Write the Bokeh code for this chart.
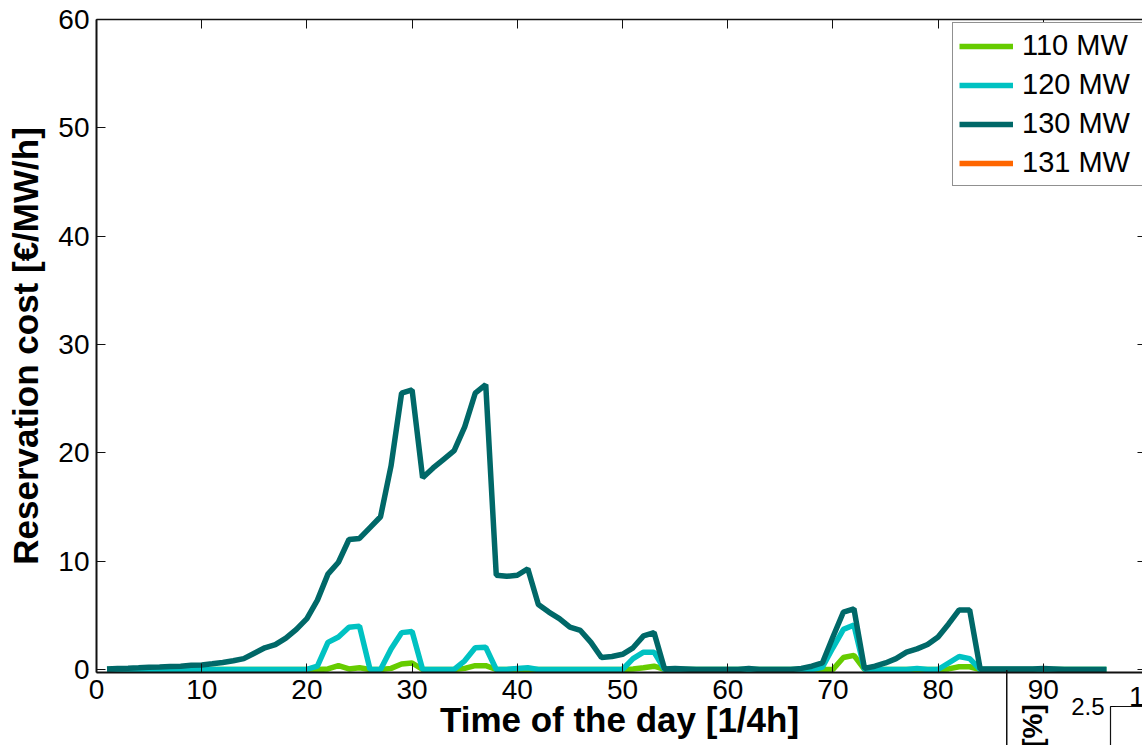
from bokeh.plotting import figure
from bokeh.layouts import column
from bokeh.models import (Range1d, LinearAxis, FixedTicker, Legend, LegendItem, Div)
from bokeh.embed import file_html
from bokeh.resources import INLINE

# ---------------- data ----------------
quarter_hours = list(range(1, 97))

cost_110 = [
    0, 0, 0, 0, 0, 0, 0, 0, 0, 0,
    0, 0, 0, 0, 0, 0, 0, 0, 0, 0,
    0, 0.05, 0.35, 0.05, 0.15, 0, 0, 0.1, 0.5, 0.6,
    0, 0, 0, 0, 0.1, 0.35, 0.35, 0, 0, 0,
    0, 0, 0, 0, 0, 0, 0, 0, 0, 0,
    0.05, 0.15, 0.3, 0, 0, 0, 0, 0, 0, 0,
    0, 0, 0, 0, 0, 0, 0, 0, 0, 0,
    1.1, 1.3, 0, 0, 0, 0, 0, 0, 0, 0,
    0.05, 0.25, 0.25, 0, 0, 0, 0, 0, 0, 0,
    0, 0, 0, 0, 0, 0,
]

cost_120 = [
    0, 0, 0, 0, 0, 0, 0, 0, 0, 0,
    0, 0, 0, 0, 0, 0, 0, 0, 0, 0,
    0.3, 2.5, 3.0, 3.9, 4.0, 0, 0, 1.9, 3.4, 3.5,
    0, 0, 0, 0, 0.8, 2.0, 2.05, 0, 0, 0.1,
    0.15, 0, 0, 0, 0, 0, 0, 0, 0, 0,
    1.0, 1.6, 1.6, 0, 0, 0, 0, 0, 0, 0,
    0, 0, 0, 0, 0, 0, 0, 0, 0.2, 2.0,
    3.7, 4.1, 0, 0, 0, 0, 0, 0.1, 0, 0,
    0.6, 1.2, 1.0, 0, 0, 0, 0, 0, 0, 0,
    0, 0, 0, 0, 0, 0,
]

cost_130 = [
    0.05, 0.1, 0.12, 0.15, 0.2, 0.22, 0.28, 0.3, 0.38, 0.42,
    0.52, 0.65, 0.8, 1.0, 1.5, 2.0, 2.3, 2.9, 3.7, 4.7,
    6.4, 8.8, 9.9, 12.0, 12.1, 13.1, 14.1, 18.8, 25.5, 25.8,
    17.7, 18.6, 19.4, 20.2, 22.4, 25.5, 26.3, 8.7, 8.6, 8.7,
    9.3, 6.0, 5.3, 4.7, 3.9, 3.6, 2.5, 1.1, 1.2, 1.4,
    2.0, 3.1, 3.4, 0.05, 0.1, 0.05, 0, 0, 0, 0,
    0, 0.1, 0, 0, 0, 0, 0.1, 0.3, 0.6, 3.0,
    5.3, 5.6, 0.1, 0.3, 0.6, 1.0, 1.6, 1.9, 2.3, 3.0,
    4.2, 5.5, 5.5, 0.05, 0.05, 0.05, 0.05, 0.05, 0.05, 0.1,
    0.05, 0, 0, 0, 0, 0,
]

# 131 MW: no value is visible in the chart (legend entry only)
hours_131 = [1]
cost_131 = [float("nan")]

series_labels = ["110 MW", "120 MW", "130 MW", "131 MW"]
series_colors = ["#66cc00", "#00c2c2", "#006868", "#ff6600"]
x_ticks = [0, 10, 20, 30, 40, 50, 60, 70, 80, 90]
y_ticks = [0, 10, 20, 30, 40, 50, 60]

# neighbouring figure whose corner overlaps the bottom-right of the picture
inset_y_ticks = [2.5]
inset_y_label = "[%]"

FONT = "Liberation Sans"


def blank_axis(ax_ticks, **kw):
    """Axis drawing only its line and inward ticks (box edge), no labels."""
    return LinearAxis(ticker=FixedTicker(ticks=ax_ticks), major_tick_out=0,
                      major_label_standoff=0, major_label_text_font_size="0px",
                      major_label_text_color=None,
                      major_label_overrides={t: "" for t in ax_ticks},
                      minor_tick_line_color=None, **kw)


# ---------------- main figure ----------------
p = figure(width=1142, height=745, output_backend="svg", toolbar_location=None,
           x_range=Range1d(0, 99.43), y_range=Range1d(-0.28, 60),
           min_border_left=96, min_border_right=0, min_border_top=19,
           min_border_bottom=73, outline_line_color=None,
           background_fill_color="white", border_fill_color="white")
p.grid.visible = False

LW = 5.5
r110 = p.line(quarter_hours, cost_110, line_color=series_colors[0], line_width=LW)
r120 = p.line(quarter_hours, cost_120, line_color=series_colors[1], line_width=LW)
r130 = p.line(quarter_hours, cost_130, line_color=series_colors[2], line_width=LW)
r131 = p.line(hours_131, cost_131, line_color=series_colors[3], line_width=LW)

xa = p.xaxis[0]
xa.ticker = FixedTicker(ticks=x_ticks)
xa.axis_label = "Time of the day [1/4h]"
ya = p.yaxis[0]
ya.ticker = FixedTicker(ticks=y_ticks)
ya.axis_label = "Reservation cost [€/MW/h]"

for ax in (xa, ya):
    ax.major_tick_in = 9
    ax.major_tick_out = 0
    ax.minor_tick_line_color = None
    ax.axis_line_width = 2
    ax.axis_line_color = "#111111"
    ax.major_tick_line_color = "#111111"
    ax.major_tick_line_width = 1
    ax.major_label_text_font = FONT
    ax.major_label_text_font_size = "28px"
    ax.major_label_text_color = "black"
    ax.axis_label_text_font = FONT
    ax.axis_label_text_font_size = "35px"
    ax.axis_label_text_font_style = "bold"
    ax.axis_label_text_color = "black"

xa.major_label_standoff = 7
xa.axis_label_standoff = -2
ya.major_label_standoff = 7
ya.axis_label_standoff = 10

p.add_layout(blank_axis(x_ticks, major_tick_in=9, axis_line_width=1.5,
                        axis_line_color="#111111", major_tick_line_color="#111111"),
             "above")
p.add_layout(blank_axis(y_ticks, major_tick_in=5, axis_line_color=None,
                        major_tick_line_color="#111111"), "right")

legend = Legend(items=[LegendItem(label=lab, renderers=[r])
                       for lab, r in zip(series_labels, [r110, r120, r130, r131])],
                location=(856, 486), orientation="vertical",
                label_text_font=FONT, label_text_font_size="29px",
                label_text_color="black",
                glyph_width=54, glyph_height=28, label_height=28, label_width=118,
                label_standoff=9, spacing=6, padding=6, margin=0,
                border_line_color="#222222", border_line_width=1.8,
                background_fill_color="white", background_fill_alpha=1)
p.add_layout(legend)

# ---------------- overlapping corner of the neighbouring figure ----------------
p2 = figure(width=136, height=75, output_backend="svg", toolbar_location=None,
            x_axis_location=None, x_range=Range1d(0, 1), y_range=Range1d(2.0, 2.5),
            min_border_left=104, min_border_top=36, min_border_right=0,
            min_border_bottom=0, outline_line_color=None,
            background_fill_alpha=0, border_fill_alpha=0,
            styles={"position": "absolute", "left": "1006px", "top": "670px",
                    "box-shadow": "inset 1.5px 0 0 0 #111111"})
p2.grid.visible = False
ya2 = p2.yaxis[0]
ya2.ticker = FixedTicker(ticks=inset_y_ticks)
ya2.axis_label = inset_y_label
ya2.major_tick_in = 5
ya2.major_tick_out = 0
ya2.minor_tick_line_color = None
ya2.axis_line_color = "#111111"
ya2.axis_line_width = 1.2
ya2.major_label_standoff = 6
ya2.major_label_text_font = FONT
ya2.major_label_text_font_size = "24px"
ya2.major_label_text_color = "black"
ya2.axis_label_text_font = FONT
ya2.axis_label_text_font_size = "28px"
ya2.axis_label_text_font_style = "bold"
ya2.axis_label_text_color = "black"
ya2.axis_label_standoff = 20
p2.add_layout(blank_axis([0, 1], major_tick_in=0, axis_line_width=1.2,
                         axis_line_color="#111111", major_tick_line_color=None),
              "above")

# the two figures are independent: do not align their frames
for f in (p, p2):
    if "frame_align" in f.properties():
        f.frame_align = False

# last x tick label of the main figure, cut by the window edge
tick_100 = Div(text="100", width=18, height=34,
               styles={"position": "absolute", "left": "1124px", "top": "675px",
                       "overflow": "hidden", "white-space": "nowrap",
                       "font-family": FONT, "font-size": "28px", "line-height": "34px",
                       "color": "black"})

layout = column(p, p2, tick_100, styles={"position": "relative"})

open("out.html", "w").write(file_html(layout, INLINE))
